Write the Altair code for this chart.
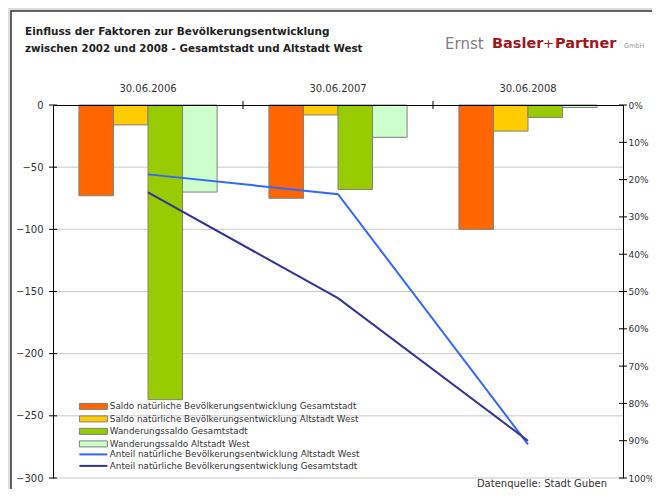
import altair as alt
import pandas as pd

# ---- data ----
categories = ["30.06.2006", "30.06.2007", "30.06.2008"]
bar_series = [
    "Saldo natürliche Bevölkerungsentwicklung Gesamtstadt",
    "Saldo natürliche Bevölkerungsentwicklung Altstadt West",
    "Wanderungssaldo Gesamtstadt",
    "Wanderungssaldo Altstadt West",
]
saldo_gesamt = [-73, -75, -100]
saldo_altstadt = [-16, -8, -21]
wanderung_gesamt = [-237, -68, -10]
wanderung_altstadt = [-70, -26, -2]

line_series = [
    "Anteil natürliche Bevölkerungsentwicklung Altstadt West",
    "Anteil natürliche Bevölkerungsentwicklung Gesamtstadt",
]
anteil_altstadt = [0.186, 0.239, 0.91]
anteil_gesamt = [0.234, 0.518, 0.90]

left_ticks = [0, -50, -100, -150, -200, -250, -300]
grid_values = [-50, -100, -150, -200, -250, -300]
right_ticks = [0, 0.1, 0.2, 0.3, 0.4, 0.5, 0.6, 0.7, 0.8, 0.9, 1.0]

bar_colors = ["#ff6600", "#ffcc00", "#99cc00", "#ccffcc"]
line_colors = ["#3366ff", "#333399"]

FONT = "DejaVu Sans"
TXT = "#333333"

# ---- tables ----
rows = []
for s, vals in zip(bar_series, [saldo_gesamt, saldo_altstadt, wanderung_gesamt, wanderung_altstadt]):
    for c, v in zip(categories, vals):
        rows.append({"cat": c, "serie": s, "wert": v})
bars_df = pd.DataFrame(rows)

lrows = []
for s, vals in zip(line_series, [anteil_altstadt, anteil_gesamt]):
    for c, v in zip(categories, vals):
        lrows.append({"cat": c, "linie": s, "anteil": v})
lines_df = pd.DataFrame(lrows)

grid_df = pd.DataFrame({"g": grid_values})
lt_df = pd.DataFrame({"t": left_ticks})
rt_df = pd.DataFrame({"t": right_ticks})
ct_df = pd.DataFrame({"cat": categories[1:]})
one = pd.DataFrame({"a": [0]})

W, H = 570, 373

x_scale = alt.Scale(domain=categories, paddingInner=0, paddingOuter=0)
y_left = alt.Scale(domain=[-300, 0], nice=False)
y_right = alt.Scale(domain=[0, 1], reverse=True, nice=False)

# panel frame (behind)
panel = alt.Chart(one).mark_rect(fill="white", stroke="#333333", strokeWidth=1.5).encode(
    x=alt.value(-42), x2=alt.value(W + 60), y=alt.value(-94), y2=alt.value(H + 40)
)

grid = alt.Chart(grid_df).mark_rule(color="#c8c8c8", strokeWidth=1).encode(
    y=alt.Y("g:Q", scale=y_left, axis=None),
    x=alt.value(0), x2=alt.value(W),
)

bars = alt.Chart(bars_df).mark_bar(stroke="#808080", strokeWidth=1).encode(
    x=alt.X("cat:N", scale=x_scale, sort=categories,
            axis=alt.Axis(orient="top", title=None, ticks=False, labelAngle=0,
                          labelPadding=12, domainColor="#000000", domainWidth=1.2,
                          labelFont=FONT, labelFontSize=10, labelColor=TXT, zindex=1)),
    xOffset=alt.XOffset("serie:N", sort=bar_series,
                        scale=alt.Scale(domain=bar_series, paddingInner=0, paddingOuter=0.75)),
    y=alt.Y("wert:Q", scale=y_left,
            axis=alt.Axis(values=left_ticks, title=None, grid=False, orient="left",
                          domainColor="#000000", ticks=False,
                          labelPadding=10, labelFont=FONT, labelFontSize=10,
                          labelColor=TXT, zindex=1)),
    fill=alt.Fill("serie:N", scale=alt.Scale(domain=bar_series, range=bar_colors),
                  legend=alt.Legend(title=None, orient="none", legendX=25, legendY=297,
                                    symbolType="M-1,-1H8.33V1H-1Z", symbolSize=36,
                                    symbolStrokeColor="#808080", symbolStrokeWidth=1,
                                    labelOffset=23, rowPadding=1.5, padding=0,
                                    labelFont=FONT, labelFontSize=8.8, labelColor=TXT,
                                    labelLimit=400)),
)

lines = alt.Chart(lines_df).mark_line(strokeWidth=2).encode(
    x=alt.X("cat:N", scale=x_scale, sort=categories),
    y=alt.Y("anteil:Q", scale=y_right,
            axis=alt.Axis(values=right_ticks, format=".0%", title=None, grid=False,
                          orient="right", domainColor="#000000", ticks=False,
                          labelPadding=5, labelFont=FONT, labelFontSize=9,
                          labelColor=TXT, zindex=1)),
    stroke=alt.Stroke("linie:N", scale=alt.Scale(domain=line_series, range=line_colors),
                      legend=alt.Legend(title=None, orient="none", legendX=25, legendY=345,
                                        symbolType="M-1,0H8.33", symbolSize=36,
                                        symbolStrokeWidth=2,
                                        labelOffset=23, rowPadding=1.5, padding=0,
                                        labelFont=FONT, labelFontSize=8.8, labelColor=TXT,
                                        labelLimit=400)),
)

# crossing tick marks on the axes
lticks = alt.Chart(lt_df).mark_rule(color="#000000", strokeWidth=1).encode(
    y=alt.Y("t:Q", scale=y_left, axis=None), x=alt.value(-4), x2=alt.value(4)
)
rticks = alt.Chart(rt_df).mark_rule(color="#000000", strokeWidth=1).encode(
    y=alt.Y("t:Q", scale=y_right, axis=None), x=alt.value(W - 4), x2=alt.value(W + 4)
)
cticks = alt.Chart(ct_df).mark_rule(color="#000000", strokeWidth=1).encode(
    x=alt.X("cat:N", scale=x_scale, sort=categories, bandPosition=0),
    y=alt.value(-4), y2=alt.value(4)
)

title1 = alt.Chart(one).mark_text(
    text="Einfluss der Faktoren zur Bevölkerungsentwicklung", align="left", baseline="middle",
    font=FONT, fontSize=10.5, fontWeight=600, color="#222222"
).encode(x=alt.value(-28), y=alt.value(-73))
title2 = alt.Chart(one).mark_text(
    text="zwischen 2002 und 2008 - Gesamtstadt und Altstadt West", align="left", baseline="middle",
    font=FONT, fontSize=10.3, fontWeight=600, color="#222222"
).encode(x=alt.value(-28), y=alt.value(-56))

logo1 = alt.Chart(one).mark_text(
    text="Ernst", align="left", baseline="middle", font=FONT, fontSize=15,
    fontWeight="normal", color="#808080"
).encode(x=alt.value(392), y=alt.value(-61))
logo2 = alt.Chart(one).mark_text(
    text="Basler", align="left", baseline="middle", font=FONT, fontSize=14.5,
    fontWeight="bold", color="#a0161c"
).encode(x=alt.value(439), y=alt.value(-61))
logo3 = alt.Chart(one).mark_text(
    text="+", align="left", baseline="middle", font=FONT, fontSize=13,
    fontWeight="normal", color="#a0161c"
).encode(x=alt.value(490), y=alt.value(-61))
logo4 = alt.Chart(one).mark_text(
    text="Partner", align="left", baseline="middle", font=FONT, fontSize=14.5,
    fontWeight="bold", color="#a0161c"
).encode(x=alt.value(502), y=alt.value(-61))
logo5 = alt.Chart(one).mark_text(
    text="GmbH", align="left", baseline="middle", font=FONT, fontSize=6.5,
    fontWeight="normal", color="#999999"
).encode(x=alt.value(571), y=alt.value(-59))

source = alt.Chart(one).mark_text(
    text="Datenquelle: Stadt Guben", align="right", baseline="alphabetic",
    font=FONT, fontSize=10, color=TXT
).encode(x=alt.value(554), y=alt.value(382))

chart = alt.layer(
    panel, grid, bars, lines, lticks, rticks, cticks,
    title1, title2, logo1, logo2, logo3, logo4, logo5, source
).resolve_scale(y="independent").properties(
    width=W, height=H,
    autosize=alt.AutoSizeParams(type="none"),
    padding={"left": 45, "top": 97, "right": 29, "bottom": 11},
    background="#dcdcdc",
).configure_view(stroke=None)

chart.save("out.html", embed_options={"renderer": "svg", "actions": False})
